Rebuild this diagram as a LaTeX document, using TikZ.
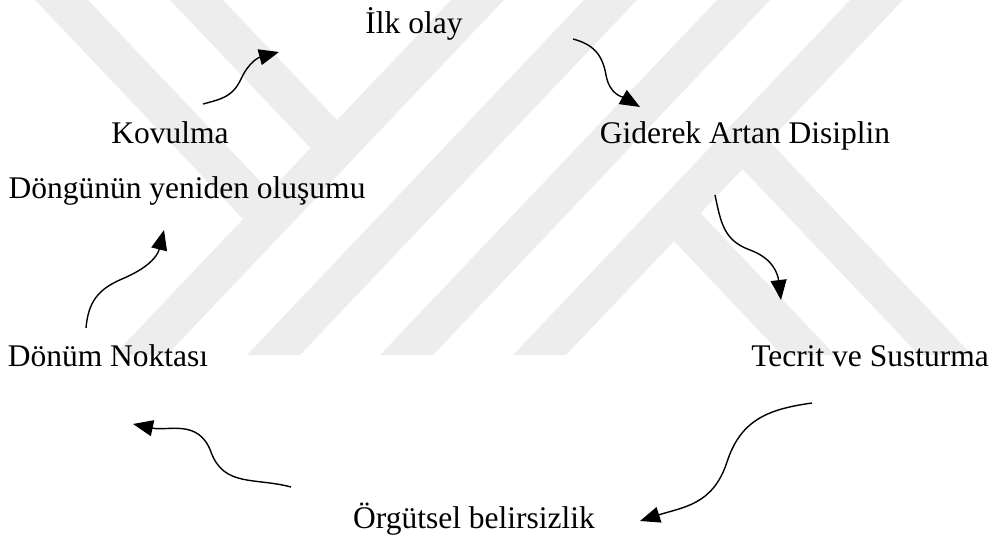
\documentclass[tikz,border=0pt]{standalone}
\usepackage{fontspec}
\setmainfont{Liberation Serif}
\usetikzlibrary{arrows.meta}
\definecolor{wm}{RGB}{237,237,237}
\tikzset{
  lbl/.style={anchor=base, inner sep=0pt, font=\fontsize{31.5}{36}\selectfont},
  flow/.style={line width=1.4pt, looseness=1.1, -{Triangle[length=20pt,width=16pt]}},
  band/.style={fill=wm, draw=none}
}
\begin{document}
\begin{tikzpicture}[x=1pt,y=1pt]
\useasboundingbox (0,0) rectangle (994,-540);
% watermark
\fill[band] (451,0) -- (504,0) -- (167,-355) -- (114,-355) -- cycle;
\fill[band] (584,0) -- (637,0) -- (300,-355) -- (247,-355) -- cycle;
\fill[band] (717,0) -- (770,0) -- (433,-355) -- (380,-355) -- cycle;
\fill[band] (850,0) -- (903,0) -- (566,-355) -- (513,-355) -- cycle;
\fill[band] (35,0) -- (88,0) -- (269.5,-191) -- (243,-219) -- cycle;
\fill[band] (170,0) -- (223,0) -- (337,-120) -- (310.5,-148) -- cycle;
\fill[band] (674,-241) -- (700.5,-213) -- (835,-355) -- (782,-355) -- cycle;
\fill[band] (742.5,-169) -- (769,-141) -- (972,-355) -- (919,-355) -- cycle;
% labels
\node[lbl] (ilk) at (414,-34) {İlk olay};
\node[lbl] (kov) at (170,-144) {Kovulma};
\node[lbl] (gid) at (745,-144) {Giderek Artan Disiplin};
\node[lbl] (don) at (187,-199) {Döngünün yeniden oluşumu};
\node[lbl] (dnm) at (108,-366) {Dönüm Noktası};
\node[lbl] (tec) at (870,-366) {Tecrit ve Susturma};
\node[lbl] (org) at (474,-528) {Örgütsel belirsizlik};
% connector ends
\coordinate (a1s) at (203,-104); \coordinate (a1m) at (241,-79); \coordinate (a1e) at (279,-52);
\coordinate (a2s) at (573,-39);  \coordinate (a2m) at (606,-75); \coordinate (a2e) at (640,-107);
\coordinate (a3s) at (715,-195); \coordinate (a3m) at (750,-250); \coordinate (a3e) at (781,-300);
\coordinate (a4s) at (812,-403); \coordinate (a4m) at (727,-462); \coordinate (a4e) at (640,-521);
\coordinate (a5s) at (291,-487); \coordinate (a5m) at (211,-452); \coordinate (a5e) at (133,-424);
\coordinate (a6s) at (86,-328);  \coordinate (a6m) at (122,-279); \coordinate (a6e) at (164,-230);
% connectors
\draw[flow] (a1s) to[out=15,in=245] (a1m) to[out=65,in=195] (a1e);
\draw[flow] (a2s) to[out=-15,in=100] (a2m) to[out=-80,in=150] (a2e);
\draw[flow] (a3s) to[out=-78,in=160] (a3m) to[out=-20,in=97] (a3e);
\draw[flow] (a4s) to[out=188,in=72] (a4m) to[out=252,in=18] (a4e);
\draw[flow] (a5s) to[out=165,in=290] (a5m) to[out=110,in=348] (a5e);
\draw[flow] (a6s) to[out=85,in=203] (a6m) to[out=23,in=256] (a6e);
\end{tikzpicture}
\end{document}
